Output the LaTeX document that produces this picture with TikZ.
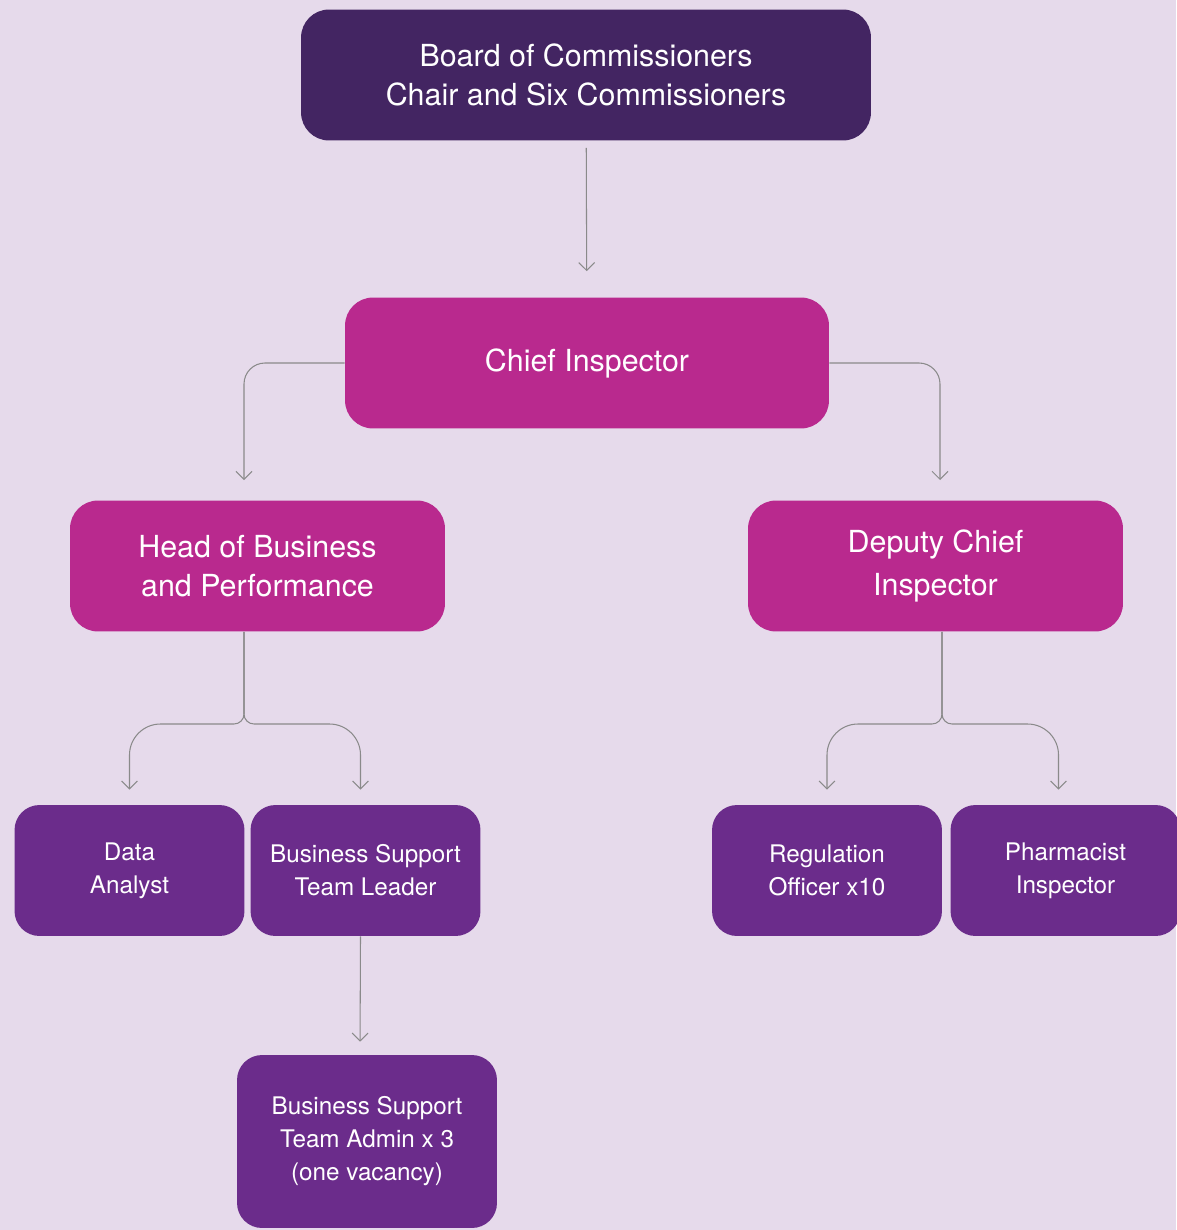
\documentclass[tikz,border=0pt]{standalone}
\usepackage{fontspec}
\setmainfont{TeX Gyre Heros}
\usetikzlibrary{arrows.meta}
\definecolor{bgpaper}{HTML}{E6DAEB}
\definecolor{boardpurple}{HTML}{432562}
\definecolor{chiefpink}{HTML}{B9298E}
\definecolor{staffpurple}{HTML}{6B2C8B}
\definecolor{linkgrey}{HTML}{8A8A8A}
\begin{document}
\begin{tikzpicture}[x=0.02cm, y=-0.02cm,
  every node/.style={text=white, align=center, inner sep=0pt},
  bigbox/.style={rounded corners=0.56cm, minimum height=2.62cm,
    font=\fontsize{17.3}{22}\selectfont},
  smallbox/.style={rounded corners=0.5cm, fill=staffpurple, minimum width=4.6cm,
    minimum height=2.62cm, font=\fontsize{13.8}{18.8}\selectfont},
  link/.style={draw=linkgrey, line width=0.6pt, -{Straight Barb[length=4.5pt,width=9pt]}}]
  \useasboundingbox[fill=bgpaper] (0,0) rectangle (1176,1230);

  \node[bigbox, fill=boardpurple, minimum width=11.4cm] (board) at (586,75)
    {Board of Commissioners\\Chair and Six Commissioners};
  \node[bigbox, fill=chiefpink, minimum width=9.68cm] (chief) at (587,363) {Chief Inspector};
  \node[bigbox, fill=chiefpink, minimum width=7.5cm] (hob) at (257.5,566)
    {Head of Business\\and Performance};
  \node[bigbox, fill=chiefpink, minimum width=7.5cm] (dci) at (935.5,566)
    {Deputy Chief\\[2pt]Inspector};

  \node[smallbox] (analyst) at (129.5,870.5) {Data\\Analyst};
  \node[smallbox] (bstl) at (365.5,870.5) {Business Support\\Team Leader};
  \node[smallbox] (regofficer) at (827,870.5) {Regulation\\Officer x10};
  \node[smallbox] (pharm) at (1065.5,870.5) {Pharmacist\\Inspector};
  \node[smallbox, minimum width=5.2cm, minimum height=3.46cm] (bsadmin) at (367,1141.5)
    {Business Support\\Team Admin x 3\\(one vacancy)};

  \coordinate (hobfork) at (244,724);
  \coordinate (dcifork) at (942,724);

  \draw[link, shorten <=0.14cm, shorten >=0.52cm] (board) -- (chief);
  \draw[link, rounded corners=0.42cm, shorten >=0.42cm] (chief.west) -| (244,501);
  \draw[link, rounded corners=0.42cm, shorten >=0.42cm] (chief.east) -| (940,501);

  \draw[link] (hob.south -| hobfork) [rounded corners=0.2cm] -- (hobfork)
    [rounded corners=0.62cm] -| ([yshift=0.3cm]analyst.north);
  \draw[link] (hob.south -| hobfork) [rounded corners=0.2cm] -- (hobfork)
    [rounded corners=0.62cm] -| ([xshift=-0.1cm, yshift=0.3cm]bstl.north);
  \draw[link] (dci.south -| dcifork) [rounded corners=0.2cm] -- (dcifork)
    [rounded corners=0.62cm] -| ([yshift=0.3cm]regofficer.north);
  \draw[link] (dci.south -| dcifork) [rounded corners=0.2cm] -- (dcifork)
    [rounded corners=0.62cm] -| ([xshift=-0.14cm, yshift=0.3cm]pharm.north);

  \draw[link, shorten >=0.26cm] ([xshift=-0.1cm]bstl.south) -- ([xshift=-0.14cm]bsadmin.north);
\end{tikzpicture}
\end{document}
